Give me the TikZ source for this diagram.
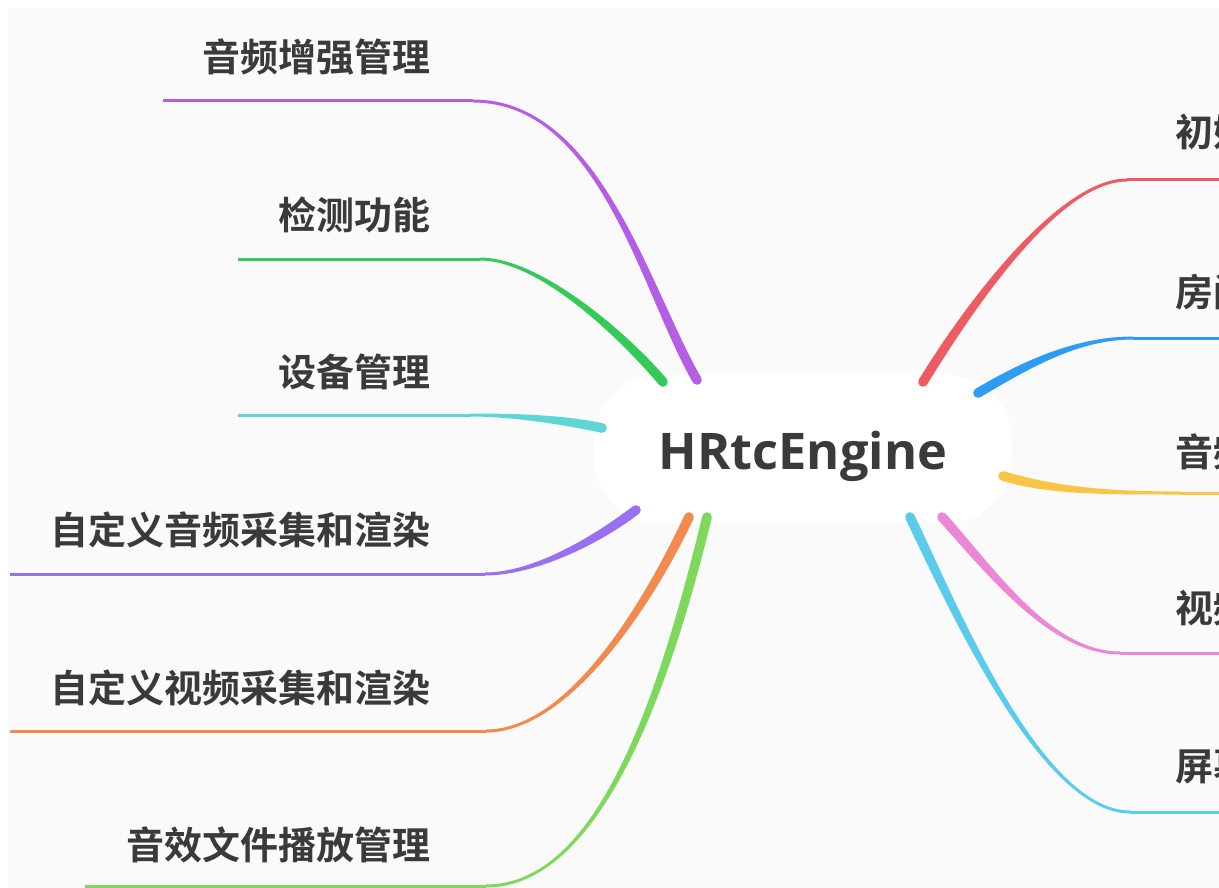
\documentclass[tikz,border=0pt]{standalone}
\usepackage{fontspec}
\usetikzlibrary{calc}
\newfontfamily\cjk{Noto Sans CJK SC}[UprightFont=* Bold]
\newfontfamily\latinb{Open Sans}[UprightFont=* Bold]
\definecolor{bgc}{HTML}{FAFAFA}
\definecolor{txt}{HTML}{3A3A3A}
\definecolor{cPurple}{HTML}{B45EE6}
\definecolor{cGreen}{HTML}{37C85A}
\definecolor{cTeal}{HTML}{5ED6D6}
\definecolor{cViolet}{HTML}{9A70F2}
\definecolor{cOrange}{HTML}{F3894E}
\definecolor{cLime}{HTML}{7ED85C}
\definecolor{cRed}{HTML}{EF5B63}
\definecolor{cBlue}{HTML}{2D9CF5}
\definecolor{cYellow}{HTML}{F9C643}
\definecolor{cPink}{HTML}{EC86D7}
\definecolor{cSky}{HTML}{5BCBEC}
\newcommand\mmbranch[6]{%
  \coordinate (bu0) at ($(#2)!4.8pt!90:(#3)$);
  \coordinate (bv0) at ($(#2)!4.8pt!-90:(#3)$);
  \coordinate (bu3) at ($(#5)!1.5pt!-90:(#4)$);
  \coordinate (bv3) at ($(#5)!1.5pt!90:(#4)$);
  \fill[#1] (bu0) .. controls ($(#3)+(bu0)-(#2)$) and ($(#4)+(bu3)-(#5)$) .. (bu3)
     -- (bv3) .. controls ($(#4)+(bv3)-(#5)$) and ($(#3)+(bv0)-(#2)$) .. (bv0) -- cycle;
  \fill[#1] (#2) circle (4.8pt);
  \draw[#1, line width=3pt] (#5) -- (#6);
}
\begin{document}
\begin{tikzpicture}[x=1pt,y=-1pt,
  lbl/.style={inner sep=0pt, text=txt, font=\cjk\fontsize{38}{40}\selectfont},
  rootnode/.style={fill=white, rounded corners=66pt, minimum width=418pt, minimum height=148pt, text=txt, font=\latinb\fontsize{50.5}{54}\selectfont}]
\useasboundingbox (0,0) rectangle (1219,888);
\fill[white] (0,0) rectangle (1219,888);
\fill[bgc] (8,8) rectangle (1219,888);
\clip (0,0) rectangle (1219,888);

\node[rootnode] (root) at (803,449) {\raisebox{-7pt}[\height][\depth]{HRtcEngine}};

% left labels
\node[lbl, anchor=east] (l1) at (431,57) {音频增强管理};
\node[lbl, anchor=east] (l2) at (431,215) {检测功能};
\node[lbl, anchor=east] (l3) at (431,372) {设备管理};
\node[lbl, anchor=east] (l4) at (431,530) {自定义音频采集和渲染};
\node[lbl, anchor=east] (l5) at (431,688) {自定义视频采集和渲染};
\node[lbl, anchor=east] (l6) at (431,845) {音效文件播放管理};
% right labels (cut off by the picture's right edge, as in the reference)
\node[lbl, anchor=west] (r1) at (1175,132) {初始化};
\node[lbl, anchor=west] (r2) at (1175,292) {房间管理};
\node[lbl, anchor=west] (r3) at (1175,452) {音频管理};
\node[lbl, anchor=west] (r4) at (1175,608) {视频管理};
\node[lbl, anchor=west] (r5) at (1175,766) {屏幕共享};

% branch geometry
\coordinate (a0) at (697,380); \coordinate (a1) at (645,290); \coordinate (a2) at (600,101); \coordinate (a3) at (473,101); \coordinate (a4) at (163,101);
\coordinate (b0) at (663,382); \coordinate (b1) at (624,336); \coordinate (b2) at (540,259); \coordinate (b3) at (480,259); \coordinate (b4) at (238,259);
\coordinate (c0) at (602,428); \coordinate (c1) at (560,419); \coordinate (c2) at (510,415); \coordinate (c3) at (470,415); \coordinate (c4) at (238,415);
\coordinate (d0) at (636,510); \coordinate (d1) at (590,545); \coordinate (d2) at (530,574); \coordinate (d3) at (485,574); \coordinate (d4) at (10,574);
\coordinate (e0) at (689,517); \coordinate (e1) at (650,600); \coordinate (e2) at (570,731); \coordinate (e3) at (486,731); \coordinate (e4) at (10,731);
\coordinate (f0) at (707,517); \coordinate (f1) at (665,690); \coordinate (f2) at (600,886); \coordinate (f3) at (486,886); \coordinate (f4) at (85,886);
\coordinate (g0) at (923,382); \coordinate (g1) at (972,302); \coordinate (g2) at (1060,180); \coordinate (g3) at (1127,180); \coordinate (g4) at (1240,180);
\coordinate (h0) at (978,393); \coordinate (h1) at (1030,362); \coordinate (h2) at (1080,338); \coordinate (h3) at (1133,338); \coordinate (h4) at (1240,338);
\coordinate (i0) at (1003,476); \coordinate (i1) at (1050,490); \coordinate (i2) at (1100,493); \coordinate (i3) at (1180,493); \coordinate (i4) at (1240,493);
\coordinate (j0) at (942,517); \coordinate (j1) at (990,570); \coordinate (j2) at (1050,653); \coordinate (j3) at (1120,653); \coordinate (j4) at (1240,653);
\coordinate (k0) at (910,517); \coordinate (k1) at (950,600); \coordinate (k2) at (1040,812); \coordinate (k3) at (1130,812); \coordinate (k4) at (1240,812);

\mmbranch{cPurple}{a0}{a1}{a2}{a3}{a4}
\mmbranch{cGreen}{b0}{b1}{b2}{b3}{b4}
\mmbranch{cTeal}{c0}{c1}{c2}{c3}{c4}
\mmbranch{cViolet}{d0}{d1}{d2}{d3}{d4}
\mmbranch{cOrange}{e0}{e1}{e2}{e3}{e4}
\mmbranch{cLime}{f0}{f1}{f2}{f3}{f4}
\mmbranch{cRed}{g0}{g1}{g2}{g3}{g4}
\mmbranch{cBlue}{h0}{h1}{h2}{h3}{h4}
\mmbranch{cYellow}{i0}{i1}{i2}{i3}{i4}
\mmbranch{cPink}{j0}{j1}{j2}{j3}{j4}
\mmbranch{cSky}{k0}{k1}{k2}{k3}{k4}
\end{tikzpicture}
\end{document}
